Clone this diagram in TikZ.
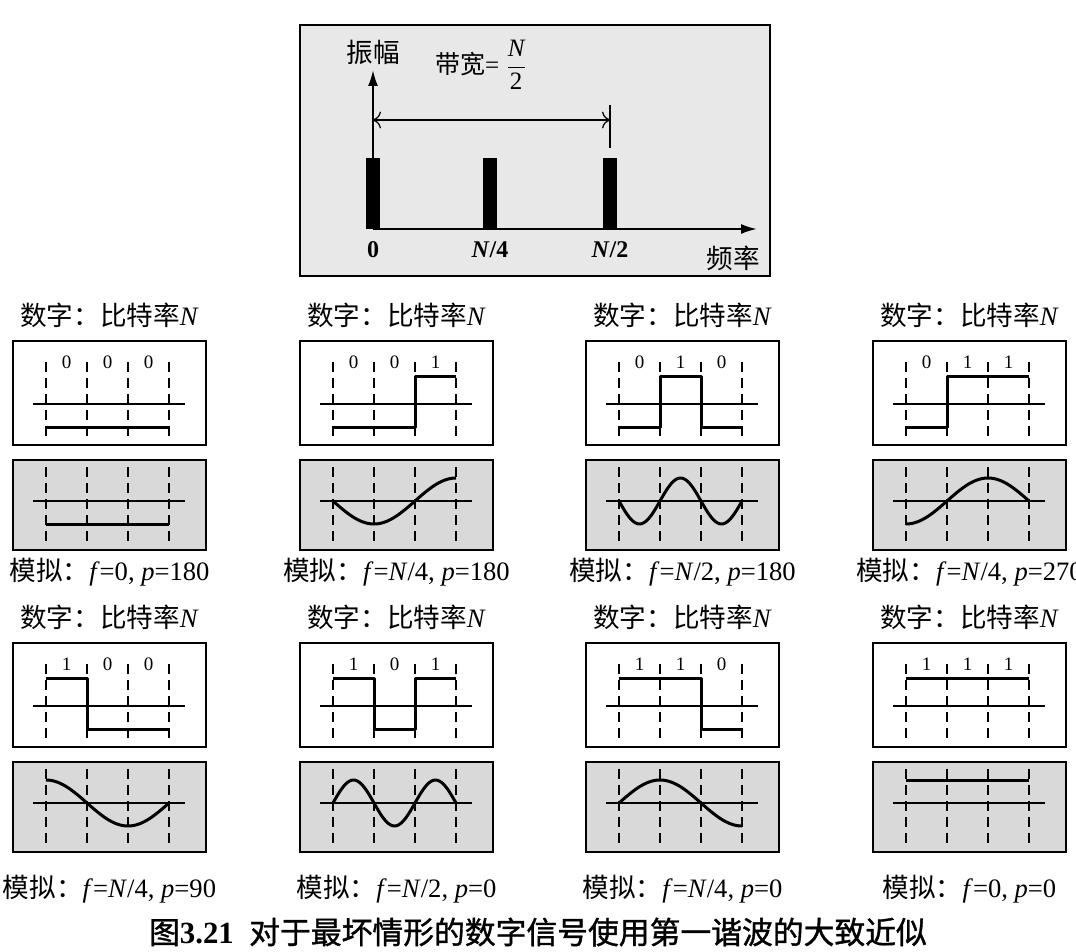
\documentclass[tikz,border=0pt]{standalone}
\usepackage{fontspec}
\setmainfont{Liberation Serif}
\newfontfamily\cjk{Noto Sans CJK SC}
\newfontfamily\cjkcap[FakeBold=1.2]{Noto Sans CJK SC}
\usepackage{tikz}
\usetikzlibrary{arrows.meta,positioning}
\newcommand\zh[1]{{\cjk #1}}
\tikzset{
  panelbox/.style={draw,line width=1pt,inner sep=0pt,minimum width=96.5pt},
  digbox/.style={panelbox,fill=white,minimum height=52pt},
  anabox/.style={panelbox,fill=black!15,minimum height=45pt},
  specbox/.style={panelbox,fill=black!9,minimum width=235pt,minimum height=125.5pt},
  bar/.style={fill=black,inner sep=0pt,minimum width=7pt,minimum height=35.5pt,anchor=south},
  tag/.style={inner sep=0pt,font=\fontsize{13.3}{15}\selectfont},
  bit/.style={inner sep=0pt,font=\fontsize{9.5}{10}\selectfont},
  freqlabel/.style={inner sep=0pt,font=\fontsize{12}{13}\selectfont\bfseries},
  gridline/.style={line width=0.9pt,dash pattern=on 5pt off 3pt},
  axisline/.style={line width=0.8pt},
  wave/.style={line width=1.5pt,line join=round},
  axisarrow/.style={line width=1pt,-{Latex[length=8pt,width=5pt]}},
  bwarrow/.style={line width=0.6pt,{To[length=4pt]}-{To[length=4pt]}}
}
\newcommand\sigpanel[7]{%
  \begin{scope}[shift={#2}]
    \node[digbox] (#1d) at (96.5,52) {};
    \node[anabox,below=6.5pt of #1d] (#1a) {};
    \node[tag,above=6pt of #1d] (#1t) {\zh{数字：比特率}\textit{N}};
    \node[tag,below=#7 of #1a] (#1l) {#6};
    \foreach \gx in {33,74,115,156}
      \draw[gridline] (\gx,21) -- (\gx,95) (\gx,126) -- (\gx,200);
    \draw[axisline] (20,63) -- (172,63) (20,160) -- (172,160);
    \foreach \b [count=\k] in {#3}
      \node[bit] (#1b\k) at ({12.5+41*\k},21) {\b};
    \draw[wave] #4;
    \draw[wave] plot[domain=0:3,samples=61] ({33+41*\x},{160-23*(#5)});
  \end{scope}}

\begin{document}
\begin{tikzpicture}[x=0.5pt,y=-0.5pt]
\useasboundingbox (0,0) rectangle (1076,952);
\node[specbox] (spec) at (535,150.5) {};
\coordinate (O) at (373,229);
\coordinate (ytip) at (373,70);
\coordinate (xtip) at (757,229);
\node[bar] (b0) at (373,229) {};
\node[bar] (b1) at (490,229) {};
\node[bar] (b2) at (610,229) {};
\draw[axisarrow] (O) -- (ytip);
\draw[axisarrow] (O) -- (xtip);
\coordinate (bwl) at (373,120);
\coordinate (bwr) at (610,120);
\coordinate (bwt) at (610,105);
\coordinate (bwb) at (610,148);
\draw[bwarrow] (bwl) -- (bwr);
\draw[line width=0.6pt] (bwt) -- (bwb);
\node[tag] (amp) at (373,52) {\zh{振幅}};
\node[tag,font=\fontsize{12.5}{13}\selectfont] (bw) at (481,65) {\zh{带宽}= $\displaystyle\frac{\mbox{\itshape N}}{\mbox{2}}$};
\node[freqlabel,below=6pt of b0] (f0) {0};
\node[freqlabel,below=6pt of b1] (f1) {\textit{N}/4};
\node[freqlabel,below=6pt of b2] (f2) {\textit{N}/2};
\node[tag] (freq) at (733,258) {\zh{频率}};

\sigpanel{p1}{(13,341)}{0,0,0}{(33,86) -- (156,86)}{-1}{\zh{模拟：}\textit{f}=0, \textit{p}=180}{3.5pt}
\sigpanel{p2}{(300,341)}{0,0,1}{(33,86) -- (115,86) -- (115,35) -- (156,35)}{sin(90*\x+180)}{\zh{模拟：}\textit{f}=\textit{N}/4, \textit{p}=180}{3.5pt}
\sigpanel{p3}{(586,341)}{0,1,0}{(33,86) -- (74,86) -- (74,35) -- (115,35) -- (115,86) -- (156,86)}{sin(180*\x+180)}{\zh{模拟：}\textit{f}=\textit{N}/2, \textit{p}=180}{3.5pt}
\sigpanel{p4}{(873,341)}{0,1,1}{(33,86) -- (74,86) -- (74,35) -- (156,35)}{sin(90*\x+270)}{\zh{模拟：}\textit{f}=\textit{N}/4, \textit{p}=270}{3.5pt}
\sigpanel{p5}{(13,643)}{1,0,0}{(33,35) -- (74,35) -- (74,86) -- (156,86)}{sin(90*\x+90)}{\zh{模拟：}\textit{f}=\textit{N}/4, \textit{p}=90}{11pt}
\sigpanel{p6}{(300,643)}{1,0,1}{(33,35) -- (74,35) -- (74,86) -- (115,86) -- (115,35) -- (156,35)}{sin(180*\x)}{\zh{模拟：}\textit{f}=\textit{N}/2, \textit{p}=0}{11pt}
\sigpanel{p7}{(586,643)}{1,1,0}{(33,35) -- (115,35) -- (115,86) -- (156,86)}{sin(90*\x)}{\zh{模拟：}\textit{f}=\textit{N}/4, \textit{p}=0}{11pt}
\sigpanel{p8}{(873,643)}{1,1,1}{(33,35) -- (156,35)}{1}{\zh{模拟：}\textit{f}=0, \textit{p}=0}{11pt}

\node[font=\fontsize{15.4}{17}\selectfont] (caption) at (538,932) {{\cjkcap 图}\textbf{3.21}\enspace{\cjkcap 对于最坏情形的数字信号使用第一谐波的大致近似}};
\end{tikzpicture}
\end{document}
